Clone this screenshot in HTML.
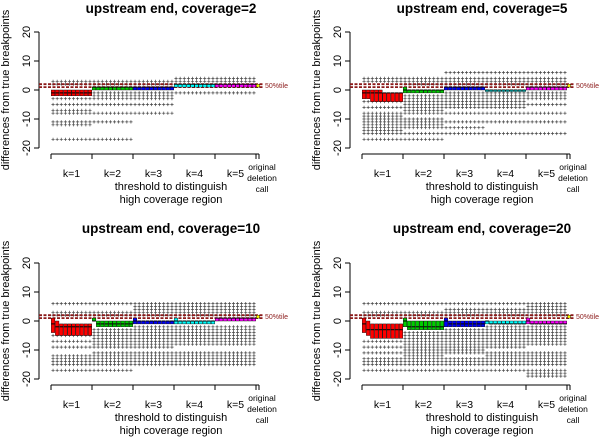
<!DOCTYPE html>
<html><head><meta charset="utf-8">
<style>
html,body{margin:0;padding:0;background:#fff;}
svg{display:block;font-family:"Liberation Sans",sans-serif;}
</style></head>
<body>
<svg id="chart" width="600" height="437" viewBox="0 0 600 437"></svg>
<script>
// ---- data ----
const panelTitles = ["upstream end, coverage=2","upstream end, coverage=5","upstream end, coverage=10","upstream end, coverage=20"];
const groupLabels = ["k=1","k=2","k=3","k=4","k=5"];
const yTicks = [20,10,0,-10,-20];
const groupColors = ["#ff0000","#00cc00","#0000ff","#00ffff","#ff00ff"];
const q1_p1 = [[-2,-2,-2,-2,-2,-2,-2,-2,-2,-2],[0,0,0,0,0,0,0,0,0,0],[0,0,0,0,0,0,0,0,0,0],[1,1,1,1,1,1,1,1,1,1],[1,1,1,1,1,1,1,1,1,1]];
const q3_p1 = [[0,0,0,0,0,0,0,0,0,0],[1,1,1,1,1,1,1,1,1,1],[1,1,1,1,1,1,1,1,1,1],[2,2,2,2,2,2,2,2,2,2],[2,2,2,2,2,2,2,2,2,2]];
const med_p1 = [[-1,-1,-1,-1,-1,-1,-1,-1,-1,-1],[1,1,1,1,1,1,1,1,1,1],[1,1,1,1,1,1,1,1,1,1],[2,2,2,2,2,2,2,2,2,2],[2,2,2,2,2,2,2,2,2,2]];
const q1_p2 = [[-3,-3,-4,-4,-4,-4,-4,-4,-4,-4],[-1,-1,-1,-1,-1,-1,-1,-1,-1,-1],[0,0,0,0,0,0,0,0,0,0],[0,0,0,0,0,0,0,0,0,0],[0,0,0,0,0,0,0,0,0,0]];
const q3_p2 = [[0,0,0,0,0,-1,-1,-1,-1,-1],[1,0,0,0,0,0,0,0,0,0],[1,1,1,1,1,1,1,1,1,1],[0,0,0,0,0,0,0,0,0,0],[1,1,1,1,1,1,1,1,1,1]];
const med_p2 = [[-1,-1,-1,-1,-1,-1,-1,-1,-1,-1],[0,0,0,0,0,0,0,0,0,0],[1,1,1,1,1,1,1,1,1,1],[0,0,0,0,0,0,0,0,0,0],[1,1,1,1,1,1,1,1,1,1]];
const q1_p3 = [[-4,-5,-5,-5,-5,-5,-5,-5,-5,-5],[0,-2,-2,-2,-2,-2,-2,-2,-2,-2],[-1,-1,-1,-1,-1,-1,-1,-1,-1,-1],[-1,-1,-1,-1,-1,-1,-1,-1,-1,-1],[0,0,0,0,0,0,0,0,0,0]];
const q3_p3 = [[1,0,-1,-1,-1,-1,-1,-1,-1,-1],[1,0,0,0,0,0,0,0,0,0],[1,0,0,0,0,0,0,0,0,0],[1,0,0,0,0,0,0,0,0,0],[1,1,1,1,1,1,1,1,1,1]];
const med_p3 = [[-1,-2,-2,-2,-2,-2,-2,-2,-2,-2],[0,-1,-1,-1,-1,-1,-1,-1,-1,-1],[0,0,0,0,0,0,0,0,0,0],[0,0,0,0,0,0,0,0,0,0],[1,1,1,1,1,1,1,1,1,1]];
const q1_p4 = [[-4,-5,-6,-6,-6,-6,-6,-6,-6,-6],[-2,-3,-3,-3,-3,-3,-3,-3,-3,-3],[-2,-2,-2,-2,-2,-2,-2,-2,-2,-2],[-1,-1,-1,-1,-1,-1,-1,-1,-1,-1],[-1,-1,-1,-1,-1,-1,-1,-1,-1,-1]];
const q3_p4 = [[1,0,-1,-1,-1,-1,-1,-1,-1,-1],[1,0,0,0,0,0,0,0,0,0],[1,0,0,0,0,0,0,0,0,0],[0,0,0,0,0,0,0,0,0,0],[1,0,0,0,0,0,0,0,0,0]];
const med_p4 = [[-1,-3,-3,-3,-3,-3,-3,-3,-3,-3],[0,-2,-2,-2,-2,-2,-2,-2,-2,-2],[0,-1,-1,-1,-1,-1,-1,-1,-1,-1],[0,-1,-1,-1,-1,-1,-1,-1,-1,-1],[0,-1,-1,-1,-1,-1,-1,-1,-1,-1]];
const out_p1 = [[3,2,-3,-5,-7,-8,-11,-12,-17],[3,2,-1,-2,-3,-5,-8,-11,-17],[3,2,-1,-2,-3,-5,-8],[4,3,-1],[4,3,-1]];
const out_p2 = [[4,3,-2,-4,-6,-8,-9,-10,-11,-12,-13,-14,-15,-17],[4,3,2,-2,-3,-4,-5,-6,-7,-8,-10,-11,-12,-13,-15,-17],[6,4,3,2,-1,-2,-3,-4,-5,-6,-8,-11,-13,-15],[6,4,3,2,-1,-2,-3,-4,-5,-6,-8,-11,-15],[6,4,3,2,-1,-2,-3,-5,-8,-11,-15]];
const out_p3 = [[6,3,2,-5,-7,-9,-12,-13,-14,-15,-17],[6,3,2,-3,-4,-5,-6,-7,-8,-9,-11,-12,-13,-14,-15,-17],[6,5,4,3,2,-2,-3,-4,-5,-6,-7,-8,-9,-11,-12,-13,-14,-15],[6,5,4,3,2,-2,-3,-4,-5,-6,-7,-8,-11,-12,-13,-14,-15],[6,5,4,3,2,-2,-3,-4,-5,-6,-7,-8,-11,-12,-13,-14,-15]];
const out_p4 = [[6,3,2,-7,-9,-11,-13,-14,-15,-17],[6,3,2,-4,-5,-6,-7,-8,-9,-10,-11,-12,-13,-14,-15,-17],[6,4,3,2,-3,-4,-5,-6,-7,-8,-9,-10,-11,-13,-14,-15,-17],[6,4,3,2,-2,-3,-4,-5,-6,-7,-8,-9,-11,-12,-13,-14,-15,-17],[6,5,4,3,2,-2,-3,-4,-5,-6,-7,-8,-11,-12,-13,-14,-15,-17,-18,-19]];
const originalMedian = [1.5,1.5,1.5,1.5];
const percentile50 = [1.5,1.5,1.5,1.5];

const Q1=[q1_p1,q1_p2,q1_p3,q1_p4], Q3=[q3_p1,q3_p2,q3_p3,q3_p4], MED=[med_p1,med_p2,med_p3,med_p4], OUT=[out_p1,out_p2,out_p3,out_p4];

const NS="http://www.w3.org/2000/svg";
const svg=document.getElementById('chart');
function mk(tag,attrs,parent){const e=document.createElementNS(NS,tag);for(const k in attrs)e.setAttribute(k,attrs[k]);(parent||svg).appendChild(e);return e;}

const layouts=[{ox:0,oy:0,ax:39,t0:51},{ox:300,oy:0,ax:50,t0:62},{ox:0,oy:231,ax:39,t0:51},{ox:300,oy:231,ax:50,t0:62}];
const titleY=[13,13,233,233];
const gw=41, bw=4.1;

layouts.forEach((L,p)=>{
  const g=mk('g',{});
  
  
  const zero=90+L.oy;
  const y=v=>zero - v*2.9;
  const ox=L.ox;
  const AX=ox+L.ax, T0=ox+L.t0;
  const x=(gi,bi)=>T0+gi*gw+(bi+0.5)*bw;
  const xOrig=T0+5*gw+2;
  const t=mk('text',{x:T0+120,y:titleY[p],'text-anchor':'middle','font-size':'13.5','font-weight':'bold',fill:'#000'},g);
  t.textContent=panelTitles[p];
  
  
  const yax=mk('g',{},g);
  
  
  mk('line',{x1:AX,x2:AX,y1:y(20),y2:y(-20),stroke:'#000','stroke-width':1},yax);
  yTicks.forEach(v=>{
    mk('line',{x1:AX-5,x2:AX,y1:y(v),y2:y(v),stroke:'#000','stroke-width':1},yax);
    const tx=mk('text',{x:0,y:0,transform:`translate(${AX-9},${y(v)}) rotate(-90)`,'text-anchor':'middle','font-size':'11',fill:'#000'},yax);
    tx.textContent=v;
    
    
  });
  const yt=mk('text',{x:0,y:0,transform:`translate(${AX-30},${zero}) rotate(-90)`,'text-anchor':'middle','font-size':'11',fill:'#000'},g);
  yt.textContent='differences from true breakpoints';
  
  
  OUT[p].forEach((vals,gi)=>{
    for(let bi=0;bi<10;bi++){
      vals.forEach(v=>{
        const cx=x(gi,bi), cy=y(v);
        mk('path',{d:`M${cx-1.6} ${cy}H${cx+1.6}M${cx} ${cy-1.6}V${cy+1.6}`,stroke:'#444','stroke-width':0.7},g);
      });
    }
  });
  const pl=mk('g',{},g);
  
  
  [-0.5,0.5].forEach(d=>mk('line',{x1:AX,x2:xOrig+6,y1:y(percentile50[p]+d),y2:y(percentile50[p]+d),stroke:'#8b1a1a','stroke-width':1.8,'stroke-dasharray':'3,1.5'},pl));
  const pt=mk('text',{x:xOrig+7,y:y(percentile50[p])+2.5,'font-size':'7',fill:'#8b1a1a'},g);
  pt.textContent='50%tile';
  
  
  for(let gi=0;gi<5;gi++){
    for(let bi=0;bi<10;bi++){
      const a=Q1[p][gi][bi], b=Q3[p][gi][bi];
      const top=y(Math.max(a,b)), bot=y(Math.min(a,b));
      const r=mk('rect',{x:x(gi,bi)-1.8,y:top,width:3.6,height:Math.max(bot-top,1.5),fill:groupColors[gi],stroke:'#000','stroke-width':0.4},g);
      
      
      mk('line',{x1:x(gi,bi)-1.8,x2:x(gi,bi)+1.8,y1:y(MED[p][gi][bi]),y2:y(MED[p][gi][bi]),stroke:'#000','stroke-width':1},g);
    }
  }
  const ob=mk('rect',{x:xOrig-1.5,y:y(originalMedian[p]+0.5),width:3,height:2.9,fill:'#ffff00',stroke:'#000','stroke-width':0.4},g);
  
  
  const xax=mk('g',{},g);
  
  
  const by=y(-20)+6;
  mk('line',{x1:T0,x2:xOrig+1,y1:by,y2:by,stroke:'#000','stroke-width':1},xax);
  for(let gi=0;gi<=5;gi++){
    const tx=T0+gi*gw;
    mk('line',{x1:tx,x2:tx,y1:by,y2:by+5,stroke:'#000','stroke-width':1},xax);
  }
  mk('line',{x1:xOrig+1,x2:xOrig+1,y1:by,y2:by+5,stroke:'#000','stroke-width':1},xax);
  groupLabels.forEach((lab,gi)=>{
    const tx=mk('text',{x:T0+gi*gw+20.5,y:by+23,'text-anchor':'middle','font-size':'10.5',fill:'#000'},xax);
    tx.textContent=lab;
    
    
  });
  ['original','deletion','call'].forEach((w,i)=>{
    const tx=mk('text',{x:xOrig+4,y:by+16+i*11,'text-anchor':'middle','font-size':'8.5',fill:'#000'},xax);
    tx.textContent=w;
    
    
  });
  ['threshold to distinguish','high coverage region'].forEach((w,i)=>{
    const tx=mk('text',{x:T0+120,y:by+36+i*13,'text-anchor':'middle','font-size':'11',fill:'#000'},g);
    tx.textContent=w;
    
    
  });
});
</script>
</body></html>
